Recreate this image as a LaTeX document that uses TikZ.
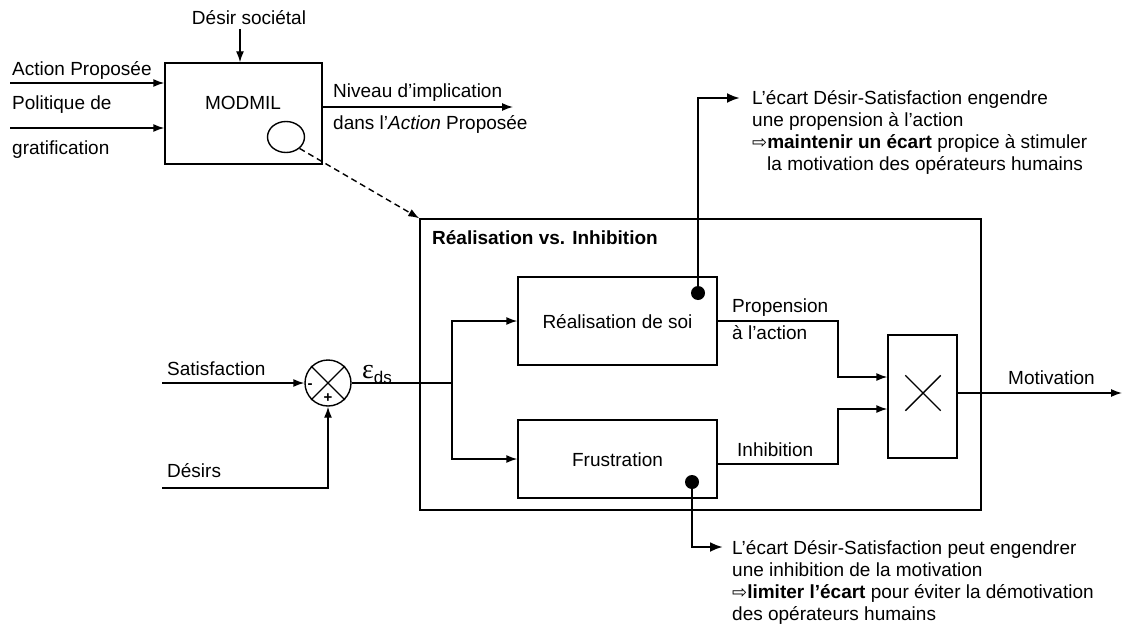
\documentclass[tikz,border=0pt]{standalone}
\usepackage{fontspec}
\setmainfont{Liberation Sans}
\newfontfamily\seriffam{Liberation Serif}
\newfontfamily\symfam{DejaVu Sans}
\usetikzlibrary{arrows.meta,shapes.geometric,shapes.misc,calc}
\begin{document}
\begin{tikzpicture}[x=1pt,y=-1pt,
  txt/.style={font=\fontsize{19}{22}\selectfont, inner sep=0pt, anchor=base west},
  ctxt/.style={font=\fontsize{19}{22}\selectfont, inner sep=0pt},
  btxt/.style={font={\fontsize{19}{22}\selectfont\bfseries}, inner sep=0pt, anchor=base west},
  blk/.style={draw, line width=1.4pt, inner sep=0pt},
  wire/.style={line width=1.4pt},
  arr/.style={wire, -{Latex[length=11pt,width=8pt]}},
  ann/.style={line width=2.8pt, -{Latex[length=13pt,width=10pt]}},
  dotn/.style={circle, fill, inner sep=0pt, minimum size=14pt},
  sgn/.style={font={\fontsize{15}{15}\selectfont\bfseries}, inner sep=0pt}
]
\fill[white] (0,0) rectangle (1129,634);
\useasboundingbox (0,0) rectangle (1129,634);

% ---- MODMIL ----
\node[blk, minimum width=157pt, minimum height=101pt] (mod) at (243.5,113.5) {};
\node[ctxt] (modt) at (243,103) {MODMIL};
\node[draw, ellipse, line width=1.4pt, minimum width=37pt, minimum height=31pt, inner sep=0pt] (ell) at (286,137) {};

\coordinate (apin) at (10,83);
\draw[arr] (apin) -- (apin -| mod.west);
\node[txt] (aptxt) at (12,75) {Action Proposée};
\coordinate (pgin) at (10,128);
\draw[arr] (pgin) -- (pgin -| mod.west);
\node[txt] (pg1) at (12,109) {Politique de};
\node[txt] (pg2) at (12,154) {gratification};
\node[ctxt, anchor=base] (dstxt) at (249,25) {Désir sociétal};
\coordinate (dsin) at (240,29);
\draw[arr] (dsin) -- (dsin |- mod.north);
\coordinate (nivout) at (513,107);
\draw[arr] (nivout -| mod.east) -- (nivout);
\node[txt] (niv1) at (333,97) {Niveau d’implication};
\node[txt] (niv2) at (333,129) {dans l’\textit{Action} Proposée};

% ---- big box ----
\node[blk, minimum width=561pt, minimum height=291pt] (big) at (700.5,364.5) {};
\node[btxt] (bigt) at (432,244) {Réalisation vs. Inhibition};
\draw[wire, dash pattern=on 6pt off 4pt, -{Latex[length=11pt,width=8pt]}] (ell.south east) -- (big.north west);

% ---- inner blocks ----
\node[blk, minimum width=199pt, minimum height=88pt] (real) at (617.5,321) {};
\node[ctxt] (realt) at (617.5,322) {Réalisation de soi};
\node[blk, minimum width=199pt, minimum height=78pt] (frus) at (617.5,459) {};
\node[ctxt] (frust) at (617.5,460) {Frustration};
\node[blk, minimum width=69pt, minimum height=123pt] (mult) at (922.5,396.5) {};
\node[cross out, draw, line width=1.4pt, minimum size=34pt, inner sep=0pt] (mx) at (923,393) {};
\coordinate (motout) at (1122,393);
\draw[arr] (mx -| mult.east) -- (motout);
\node[txt] (mottxt) at (1008,384) {Motivation};

% ---- summing junction ----
\node[draw, circle, line width=1.4pt, minimum size=46pt, inner sep=0pt] (sum) at (328,383) {};
\node[cross out, draw, line width=1.4pt, minimum size=32.5pt, inner sep=0pt] (sx) at (sum.center) {};
\node[sgn] (minus) at (310,386) {-};
\node[sgn] (plus) at (328,398) {+};

\coordinate (satin) at (162,383);
\draw[arr] (satin) -- (sum.west);
\node[txt] (sattxt) at (167,375) {Satisfaction};
\coordinate (desin) at (162,488);
\draw[arr] (desin) -| (sum.south);
\node[txt] (destxt) at (167,477) {Désirs};
\node[inner sep=0pt, anchor=base west] (eps) at (362,378) {{\seriffam\fontsize{28}{28}\selectfont ε}{\fontsize{17}{17}\selectfont\raisebox{-5pt}{ds}}};

\coordinate (br) at (452,383);
\draw[wire] (sum.east) -- (br);
\draw[arr] (br) |- (real.west);
\draw[arr] (br) |- (frus.west);

\coordinate (pj) at (838,377);
\draw[arr] (real.east) -| (pj) -- (pj -| mult.west);
\coordinate (ij) at (838,409);
\draw[arr] ($(frus.east)+(0,5)$) -| (ij) -- (ij -| mult.west);
\node[txt] (prop1) at (732,312) {Propension};
\node[txt] (prop2) at (732,339) {à l’action};
\node[txt] (inhtxt) at (737,456) {Inhibition};

% ---- annotations ----
\node[dotn] (d1) at (698,293) {};
\node[dotn] (d2) at (692,482) {};
\coordinate (a1) at (740,98);
\coordinate (a2) at (723,547);
\draw[ann] (d1.center) |- (a1);
\draw[ann] (d2.center) |- (a2);

\node[txt] (t1) at (752,104) {L’écart Désir-Satisfaction engendre};
\node[txt] (t2) at (752,126) {une propension à l’action};
\node[txt] (t3) at (752,148) {{\symfam\fontsize{18}{18}\selectfont ⇨}\textbf{maintenir un écart} propice à stimuler};
\node[txt] (t4) at (767,170) {la motivation des opérateurs humains};

\node[txt] (b1) at (732,554) {L’écart Désir-Satisfaction peut engendrer};
\node[txt] (b2) at (732,576) {une inhibition de la motivation};
\node[txt] (b3) at (732,598) {{\symfam\fontsize{18}{18}\selectfont ⇨}\textbf{limiter l’écart} pour éviter la démotivation};
\node[txt] (b4) at (732,620) {des opérateurs humains};
\end{tikzpicture}
\end{document}
